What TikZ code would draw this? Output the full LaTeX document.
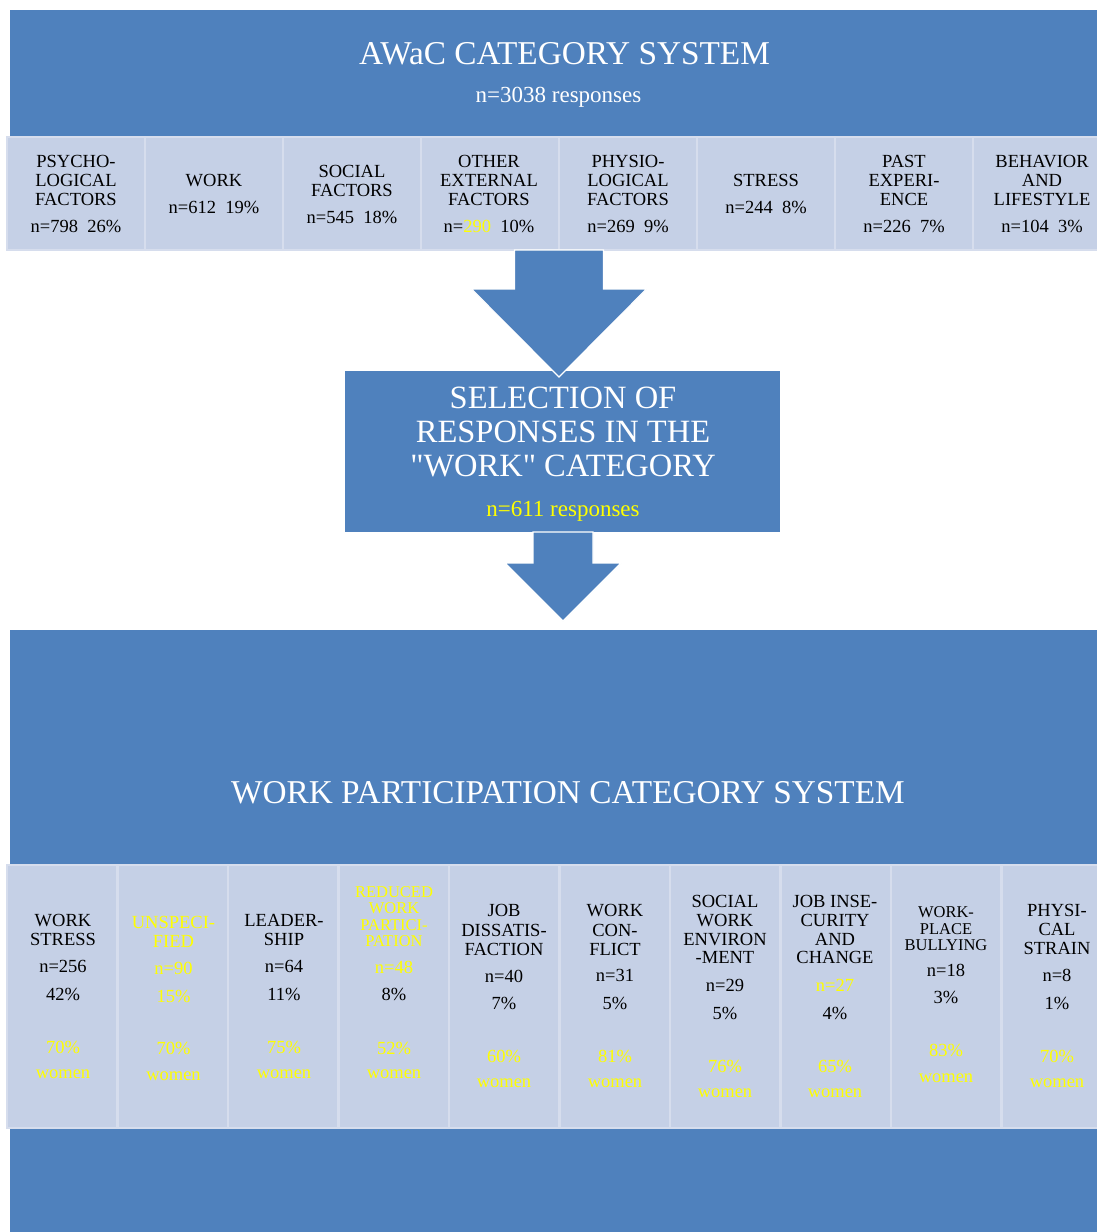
\documentclass[tikz,border=0pt]{standalone}
\usepackage{fontspec}
\setmainfont{Liberation Serif}
\newfontfamily\qfont{Liberation Serif}[Ligatures=TeXOff]
\usetikzlibrary{calc}
\definecolor{blu}{RGB}{79,129,189}
\definecolor{cellf}{RGB}{197,208,230}
\definecolor{celll}{RGB}{214,221,237}
\definecolor{yel}{RGB}{255,255,0}
\newcounter{lnc}
\newcommand\tline[5][18.5]{\stepcounter{lnc}\node[txt,text=#4,font=\fontsize{#1pt}{#1pt}\selectfont] (ln\thelnc) at (#2,#3) {#5};}
\newcommand\barrow[5]{\path[barr] let \p1=(#1), \p2=(#2) in
  (\x1-#3pt,\y1) -- (\x1+#3pt,\y1) -- (\x1+#3pt,\y2+#5pt) -- (\x1+#4pt,\y2+#5pt) -- (\x2,\y2) -- (\x1-#4pt,\y2+#5pt) -- (\x1-#3pt,\y2+#5pt) -- cycle;}
\newcommand\sq{{\qfont\char34}}
\begin{document}
\begin{tikzpicture}[x=1pt,y=-1pt,
  txt/.style={anchor=base,inner sep=0pt,outer sep=0pt},
  bluebox/.style={fill=blu,draw=none,inner sep=0pt,outer sep=0pt,anchor=north west},
  tcell/.style={fill=cellf,draw=celll,line width=2.5pt,inner sep=0pt,outer sep=0pt,anchor=north west,minimum width=138pt,minimum height=113pt},
  bcell/.style={fill=cellf,draw=celll,line width=2.5pt,inner sep=0pt,outer sep=0pt,anchor=north west,minimum width=110.5pt,minimum height=263pt},
  barr/.style={fill=blu,draw=white,line width=1.2pt,line join=miter}]
\useasboundingbox (0,0) rectangle (1097,1232);
\clip (0,0) rectangle (1097,1232);
% boxes
\node[bluebox,minimum width=1087pt,minimum height=127pt] (awac) at (10,10) {};
\node[bluebox,minimum width=1087pt,minimum height=602pt] (wp) at (10,630) {};
\foreach \i in {0,...,7} \node[tcell] (tc\i) at ({7+138*\i},137) {};
\foreach \i in {0,...,9} \node[bcell] (bc\i) at ({7+110.5*\i},865) {};
\node[bluebox,minimum width=435pt,minimum height=161pt] (sel) at (345,371) {};
% arrows
\coordinate (a1s) at (tc3.south east);
\coordinate (a1e) at (559,377);
\coordinate (a2s) at (563,532);
\coordinate (a2e) at (563,621);
\barrow{a1s}{a1e}{44.5}{87.5}{88}
\barrow{a2s}{a2e}{30}{58}{58}
% titles
\tline[33.3]{564.5}{64}{white}{AWaC CATEGORY SYSTEM}
\tline[23]{558.5}{102}{white}{n=3038 responses}
\tline[32.5]{563}{408}{white}{SELECTION OF}
\tline[32.5]{563}{442}{white}{RESPONSES IN THE}
\tline[32.5]{563}{476}{white}{\sq WORK\sq{} CATEGORY}
\tline[23]{563}{516}{yel}{n=611 responses}
\tline[33.3]{568}{803}{white}{WORK PARTICIPATION CATEGORY SYSTEM}
% top cells
\tline{76}{167}{black}{PSYCHO-}
\tline{76}{186}{black}{LOGICAL}
\tline{76}{205}{black}{FACTORS}
\tline{76}{232}{black}{n=798\ \ 26\%}
\tline{214}{186}{black}{WORK}
\tline{214}{213}{black}{n=612\ \ 19\%}
\tline{352}{177}{black}{SOCIAL}
\tline{352}{196}{black}{FACTORS}
\tline{352}{223}{black}{n=545\ \ 18\%}
\tline{489}{167}{black}{OTHER}
\tline{489}{186}{black}{EXTERNAL}
\tline{489}{205}{black}{FACTORS}
\tline{489}{232}{black}{n={\color{yel}290}\ \ 10\%}
\tline{628}{167}{black}{PHYSIO-}
\tline{628}{186}{black}{LOGICAL}
\tline{628}{205}{black}{FACTORS}
\tline{628}{232}{black}{n=269\ \ 9\%}
\tline{766}{186}{black}{STRESS}
\tline{766}{213}{black}{n=244\ \ 8\%}
\tline{904}{167}{black}{PAST}
\tline{904}{186}{black}{EXPERI-}
\tline{904}{205}{black}{ENCE}
\tline{904}{232}{black}{n=226\ \ 7\%}
\tline{1042}{167}{black}{BEHAVIOR}
\tline{1042}{186}{black}{AND}
\tline{1042}{205}{black}{LIFESTYLE}
\tline{1042}{232}{black}{n=104\ \ 3\%}
% bottom cells
\tline{63}{926}{black}{WORK}
\tline{63}{945}{black}{STRESS}
\tline{63}{972}{black}{n=256}
\tline{63}{1000}{black}{42\%}
\tline{63}{1053}{yel}{70\%}
\tline{63}{1078}{yel}{women}
\tline{173.5}{928}{yel}{UNSPECI-}
\tline{173.5}{947}{yel}{FIED}
\tline{173.5}{974}{yel}{n=90}
\tline{173.5}{1002}{yel}{15\%}
\tline{173.5}{1054}{yel}{70\%}
\tline{173.5}{1080}{yel}{women}
\tline{284}{926}{black}{LEADER-}
\tline{284}{945}{black}{SHIP}
\tline{284}{972}{black}{n=64}
\tline{284}{1000}{black}{11\%}
\tline{284}{1053}{yel}{75\%}
\tline{284}{1078}{yel}{women}
\tline[16.5]{394}{897}{yel}{REDUCED}
\tline[16.5]{394}{913}{yel}{WORK}
\tline[16.5]{394}{930.5}{yel}{PARTICI-}
\tline[16.5]{394}{946.5}{yel}{PATION}
\tline{394}{973}{yel}{n=48}
\tline{394}{1000}{black}{8\%}
\tline{394}{1054}{yel}{52\%}
\tline{394}{1078}{yel}{women}
\tline{504}{916}{black}{JOB}
\tline{504}{936}{black}{DISSATIS-}
\tline{504}{955}{black}{FACTION}
\tline{504}{982}{black}{n=40}
\tline{504}{1009}{black}{7\%}
\tline{504}{1062.5}{yel}{60\%}
\tline{504}{1087}{yel}{women}
\tline{615}{916}{black}{WORK}
\tline{615}{936}{black}{CON-}
\tline{615}{955}{black}{FLICT}
\tline{615}{981}{black}{n=31}
\tline{615}{1009}{black}{5\%}
\tline{615}{1062.5}{yel}{81\%}
\tline{615}{1087}{yel}{women}
\tline{725}{907}{black}{SOCIAL}
\tline{725}{926}{black}{WORK}
\tline{725}{945}{black}{ENVIRON}
\tline{725}{963.5}{black}{-MENT}
\tline{725}{991}{black}{n=29}
\tline{725}{1019}{black}{5\%}
\tline{725}{1072}{yel}{76\%}
\tline{725}{1097}{yel}{women}
\tline{835}{907}{black}{JOB INSE-}
\tline{835}{926}{black}{CURITY}
\tline{835}{945}{black}{AND}
\tline{835}{963.5}{black}{CHANGE}
\tline{835}{991}{yel}{n=27}
\tline{835}{1019}{black}{4\%}
\tline{835}{1072}{yel}{65\%}
\tline{835}{1097}{yel}{women}
\tline[16.5]{946}{917}{black}{WORK-}
\tline[16.5]{946}{934.5}{black}{PLACE}
\tline[16.5]{946}{950}{black}{BULLYING}
\tline{946}{976}{black}{n=18}
\tline{946}{1003}{black}{3\%}
\tline{946}{1056}{yel}{83\%}
\tline{946}{1082}{yel}{women}
\tline{1057}{916}{black}{PHYSI-}
\tline{1057}{935}{black}{CAL}
\tline{1057}{954.5}{black}{STRAIN}
\tline{1057}{981}{black}{n=8}
\tline{1057}{1009}{black}{1\%}
\tline{1057}{1062.5}{yel}{70\%}
\tline{1057}{1087}{yel}{women}
\end{tikzpicture}
\end{document}
